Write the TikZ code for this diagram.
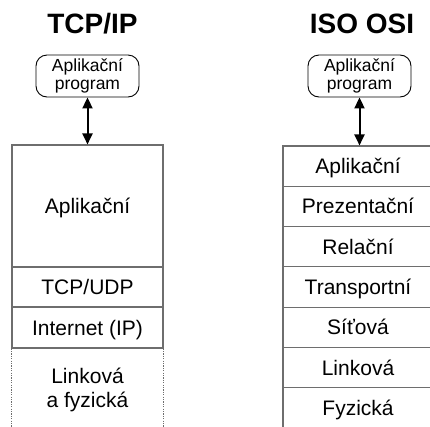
\documentclass[tikz,border=0pt]{standalone}
\usepackage{fontspec}
\setmainfont{Liberation Sans}
\usetikzlibrary{arrows.meta}
\definecolor{linegray}{RGB}{110,110,110}
\begin{document}
\begin{tikzpicture}[x=1pt,y=-1pt,
 layer/.style={draw=linegray, line width=1.1pt, inner sep=0pt, minimum width=151pt,
   font=\fontsize{21}{24}\selectfont, text height=15pt, text depth=0pt},
 app/.style={draw=black, line width=0.9pt, rounded corners=11pt, minimum width=103pt,
   minimum height=42pt, inner sep=0pt, align=center, font=\fontsize{17.5}{17.5}\selectfont},
 title/.style={font=\fontsize{28}{30}\selectfont\bfseries, anchor=base, inner sep=0pt},
 link/.style={{Triangle[width=10pt,length=11pt]}-{Triangle[width=10pt,length=11pt]}, line width=2pt, black}]
\useasboundingbox (0,0) rectangle (430,426);
\clip (0,0) rectangle (430,426);
% titles
\node[title] (ttitle) at (92.5,33) {TCP/IP};
\node[title] (otitle) at (362,33) {ISO OSI};
% application program boxes
\node[app] (tprog) at (87.5,76) {Aplikační\\program};
\node[app] (oprog) at (359.5,76) {Aplikační\\program};
% TCP/IP column
\node[layer, minimum height=122pt] (tapp) at (87.5,206) {Aplikační};
\node[layer, minimum height=40pt] (ttcp) at (87.5,287) {TCP/UDP};
\node[layer, minimum height=41pt] (tip) at (87.5,327.5) {Internet (IP)};
\node[align=center, inner sep=0pt, font=\fontsize{21}{24}\selectfont] (tlink) at (87.5,390) {Linková\\a fyzická};
\draw[linegray, line width=1.1pt, dash pattern=on 1.2pt off 1.2pt] (tip.south west) -- ++(0,80);
\draw[linegray, line width=1.1pt, dash pattern=on 1.2pt off 1.2pt] (tip.south east) -- ++(0,80);
% ISO OSI column
\foreach \t [count=\i] in {Aplikační,Prezentační,Relační,Transportní,Síťová,Linková,Fyzická}{
  \node[layer, minimum width=150pt, minimum height=40.3pt] (o\i) at (358,{146+40.3*(\i-0.5)}) {\t};
}
% connectors
\draw[link] (tprog) -- (tapp);
\draw[link] (oprog.south) -- (oprog.south |- o1.north);
\end{tikzpicture}
\end{document}
